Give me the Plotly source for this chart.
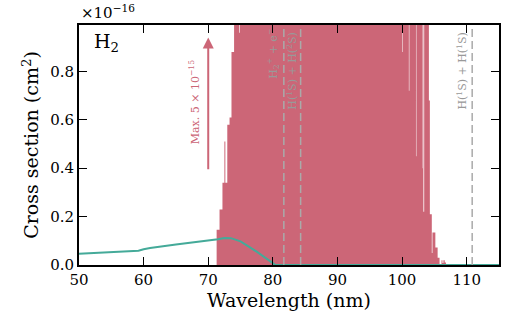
import plotly.graph_objects as go

# Absorption cross section envelope (units of 1e-16 cm^2); 50 = clipped (max 5e-15)
abs_wl = [50.0, 71.3, 71.75, 72.2, 72.5, 72.65, 72.95, 73.3, 73.6, 74.0, 74.8, 74.9,
          100.0, 100.08, 101.05, 101.13, 102.15, 102.22, 103.1, 103.15, 103.3, 103.42,
          104.15, 104.3, 104.6, 104.7, 105.15, 105.5, 105.8, 106.1, 106.25, 106.4, 106.6,
          106.8, 115.0]
abs_xs = [0.0, 0.146, 0.229, 0.34, 0.51, 0.34, 0.58, 0.61, 0.88, 50.0, 0.96, 50.0,
          0.88, 50.0, 0.72, 50.0, 0.45, 50.0, 0.40, 50.0, 0.22, 50.0,
          0.68, 0.21, 0.05, 0.134, 0.072, 0.03, 0.0, 0.02, 0.008, 0.02, 0.01,
          0.0, 0.0]

# Ionisation / continuum cross section
ion_wl = [50.0, 55.0, 59.2, 60.0, 61.0, 65.0, 70.0, 71.5, 72.5, 73.5, 75.0, 77.5, 80.0, 80.4, 115.0]
ion_xs = [0.047, 0.055, 0.059, 0.065, 0.070, 0.085, 0.100, 0.106, 0.112, 0.111, 0.098, 0.055, 0.008, 0.0, 0.0]

# Threshold wavelengths and labels
thr_wl = [81.7, 84.3, 110.85]
thr_lab = ["H<sub>2</sub><sup>+</sup> + e<sup>−</sup>",
           "H(<sup>1</sup>S) + H(<sup>2</sup>S)",
           "H(<sup>1</sup>S) + H(<sup>1</sup>S)"]
thr_lab_x = [80.1, 83.0, 109.3]
thr_lab_y = [0.875, 0.80, 0.80]

x_ticks = [50, 60, 70, 80, 90, 100, 110]
y_ticks = [0.0, 0.2, 0.4, 0.6, 0.8]

RED = "#CC6677"
GREEN = "#44AA99"
FONT = "DejaVu Serif"

fig = go.Figure()
fig.add_trace(go.Scatter(x=abs_wl, y=abs_xs, mode="lines", line=dict(width=0, shape="hv", color=RED),
                         fill="tozeroy", fillcolor=RED, hoverinfo="skip"))
fig.add_trace(go.Scatter(x=ion_wl, y=ion_xs, mode="lines", line=dict(width=2, color=GREEN)))

for xv in thr_wl:
    fig.add_shape(type="line", x0=xv, x1=xv, y0=0, y1=1, xref="x", yref="paper",
                  line=dict(color="#AAAAAA", width=1.5, dash="8px,4px"), layer="above")

for t, xx, yy in zip(thr_lab, thr_lab_x, thr_lab_y):
    fig.add_annotation(x=xx, y=yy, text=t, showarrow=False, textangle=-90,
                       font=dict(family=FONT, size=11, color="#999999"))

# Arrow indicating clipped maximum
fig.add_annotation(x=70, y=0.94, ax=70, ay=0.39, axref="x", ayref="y", xref="x", yref="y",
                   text="", showarrow=True, arrowhead=2, arrowsize=1.1, arrowwidth=2, arrowcolor=RED)
fig.add_annotation(x=67.9, y=0.675, text="Max. 5 × 10<sup>−15</sup>", showarrow=False, textangle=-90,
                   font=dict(family=FONT, size=11, color=RED))

fig.add_annotation(x=0.03, y=0.925, xref="paper", yref="paper", text="H<sub>2</sub>", showarrow=False,
                   xanchor="left", yanchor="middle", font=dict(family=FONT, size=19, color="black"))
fig.add_annotation(x=0.0, y=1.0, xref="paper", yref="paper", text="×10<sup>−16</sup>", showarrow=False,
                   xanchor="left", yanchor="bottom", yshift=1, font=dict(family=FONT, size=15, color="black"))

axis_common = dict(showline=True, linecolor="black", linewidth=2, mirror="allticks", ticks="inside",
                   ticklen=8, tickwidth=1.3, tickcolor="black", showgrid=False, zeroline=False,
                   tickfont=dict(family=FONT, size=15, color="black"))

fig.update_layout(
    width=525, height=324, margin=dict(l=79, r=26, t=25, b=59),
    paper_bgcolor="white", plot_bgcolor="white", showlegend=False,
    xaxis=dict(range=[50, 115], tickvals=x_ticks, ticktext=[str(v) for v in x_ticks],
               title=dict(text="Wavelength (nm)", font=dict(family=FONT, size=19, color="black"), standoff=6),
               **axis_common),
    yaxis=dict(range=[0, 0.992], tickvals=y_ticks, ticktext=[f"{v:.1f}" for v in y_ticks],
               title=dict(text="Cross section (cm<sup>2</sup>)", font=dict(family=FONT, size=19, color="black"), standoff=6),
               **axis_common),
)

fig.write_html("out.html")
